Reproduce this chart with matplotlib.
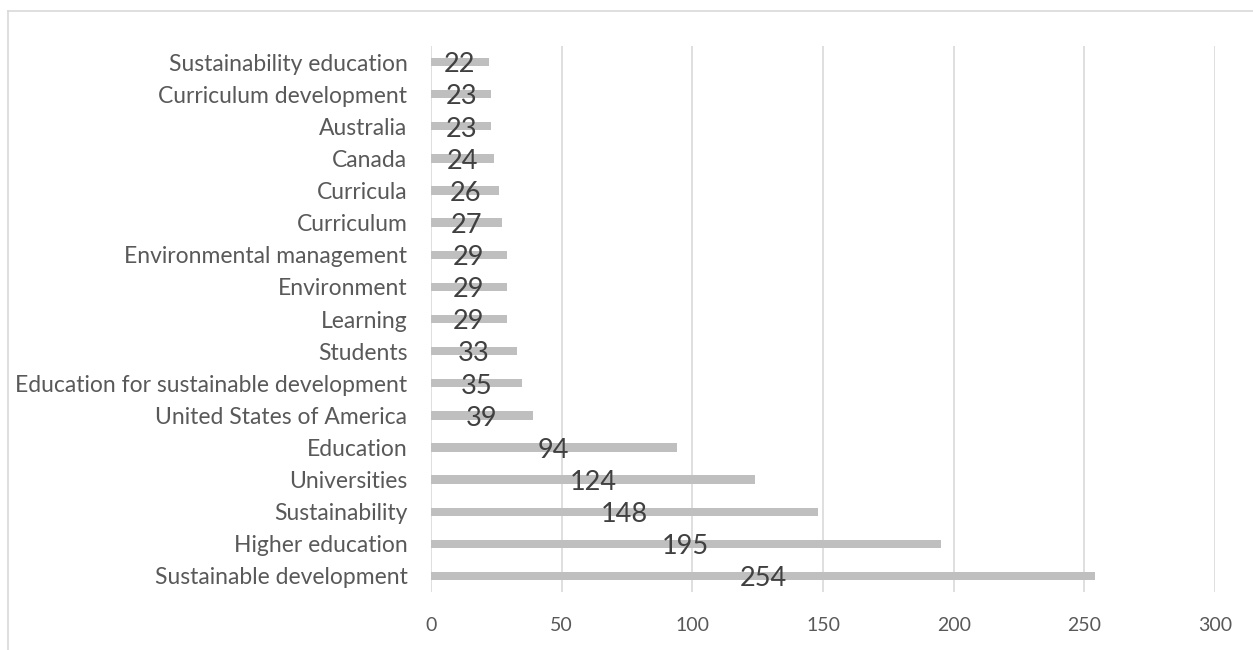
import matplotlib.pyplot as plt
from matplotlib.lines import Line2D

# keywords, listed bottom to top as they appear on the chart
keywords = ["Sustainable development", "Higher education", "Sustainability",
            "Universities", "Education", "United States of America",
            "Education for sustainable development", "Students", "Learning",
            "Environment", "Environmental management", "Curriculum",
            "Curricula", "Canada", "Australia", "Curriculum development",
            "Sustainability education"]
counts = [254, 195, 148, 124, 94, 39, 35, 33, 29, 29, 29, 27, 26, 24, 23, 23, 22]
xticks = [0, 50, 100, 150, 200, 250, 300]

plt.rcParams['font.family'] = ['Lato', 'DejaVu Sans']

fig = plt.figure(figsize=(12.53, 6.5), dpi=100)
ax = fig.add_axes([0.344, 0.0892, 0.6257, 0.8400])

pos = list(range(len(keywords)))
ax.barh(pos, counts, height=0.26, color='#BFBFBF', zorder=2)

for y, v in zip(pos, counts):
    ax.annotate(str(v), (v / 2, y), xytext=(0, -2), textcoords='offset points',
                ha='center', va='center', fontsize=19.5, color='#404040', zorder=3)

ax.set_xlim(0, 300)
ax.set_ylim(-0.5, len(keywords) - 0.5)
ax.set_xticks(xticks)
ax.set_yticks(pos)
ax.set_yticklabels(keywords)
ax.tick_params(axis='x', length=0, pad=18, labelsize=14, labelcolor='#595959')
ax.tick_params(axis='y', length=0, pad=17, labelsize=16.5, labelcolor='#595959')
ax.xaxis.grid(True, color='#D9D9D9', linewidth=1.2, zorder=0)
ax.set_axisbelow(True)
for s in ax.spines.values():
    s.set_visible(False)

# chart frame (top and left edges visible in the original crop)
fig.add_artist(Line2D([0.0064, 1.0], [0.983, 0.983], color='#D9D9D9', linewidth=1.2))
fig.add_artist(Line2D([0.0064, 0.0064], [0.0, 0.983], color='#D9D9D9', linewidth=1.2))

fig.savefig('out.png', dpi=100)
